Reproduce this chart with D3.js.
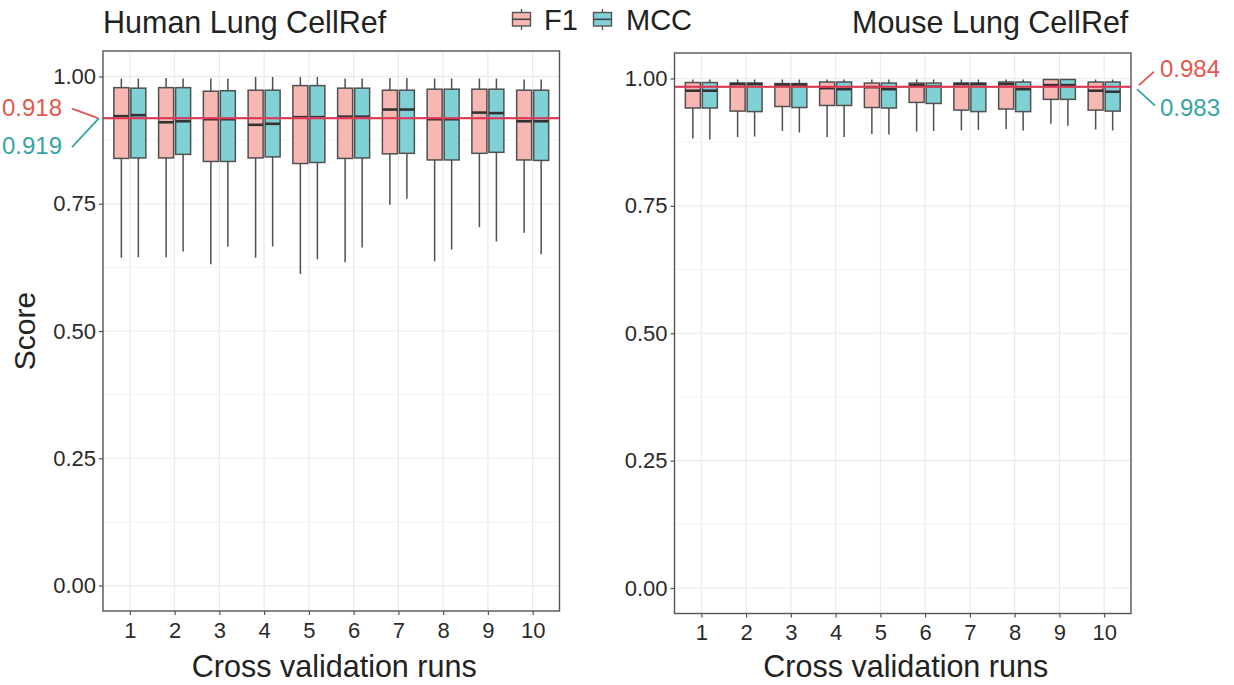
<!DOCTYPE html>
<html>
<head>
<meta charset="utf-8">
<script src="https://cdnjs.cloudflare.com/ajax/libs/d3/7.8.5/d3.min.js"></script>
<style>
  body { margin: 0; background: #fff; }
  svg { display: block; font-family: "Liberation Sans", Arial, sans-serif; }
</style>
</head>
<body>
<div id="chart"></div>
<script>
"use strict";

// cross validation runs (x categories)
var runs = [1, 2, 3, 4, 5, 6, 7, 8, 9, 10];
var yTicks = [0, 0.25, 0.5, 0.75, 1];
var yMinor = [0.125, 0.375, 0.625, 0.875];
var seriesNames = ["F1", "MCC"];

// each entry: [lower whisker, q1, median, q3, upper whisker]
var humanF1 = [
  [0.644, 0.839, 0.922, 0.978, 0.996],
  [0.645, 0.840, 0.910, 0.978, 0.997],
  [0.631, 0.833, 0.916, 0.971, 0.996],
  [0.644, 0.840, 0.905, 0.973, 0.999],
  [0.612, 0.829, 0.920, 0.982, 0.999],
  [0.635, 0.839, 0.921, 0.977, 0.996],
  [0.748, 0.848, 0.935, 0.973, 0.997],
  [0.637, 0.836, 0.916, 0.975, 0.996],
  [0.704, 0.849, 0.929, 0.975, 0.996],
  [0.693, 0.836, 0.912, 0.973, 0.994]
];
var humanMCC = [
  [0.645, 0.840, 0.924, 0.977, 0.996],
  [0.656, 0.847, 0.912, 0.978, 0.996],
  [0.666, 0.833, 0.916, 0.972, 0.996],
  [0.666, 0.842, 0.907, 0.973, 0.999],
  [0.641, 0.831, 0.920, 0.982, 0.999],
  [0.664, 0.840, 0.921, 0.977, 0.996],
  [0.760, 0.849, 0.935, 0.973, 0.997],
  [0.660, 0.836, 0.916, 0.975, 0.996],
  [0.676, 0.851, 0.928, 0.975, 0.996],
  [0.651, 0.835, 0.912, 0.973, 0.994]
];
var mouseF1 = [
  [0.882, 0.942, 0.976, 0.992, 0.998],
  [0.885, 0.936, 0.989, 0.991, 0.998],
  [0.897, 0.945, 0.988, 0.990, 0.998],
  [0.885, 0.947, 0.981, 0.993, 0.998],
  [0.891, 0.943, 0.983, 0.991, 0.998],
  [0.896, 0.953, 0.987, 0.991, 0.998],
  [0.898, 0.938, 0.989, 0.991, 0.998],
  [0.901, 0.940, 0.989, 0.993, 0.998],
  [0.911, 0.959, 0.987, 0.998, 0.999],
  [0.900, 0.938, 0.976, 0.993, 0.998]
];
var mouseMCC = [
  [0.880, 0.942, 0.976, 0.992, 0.998],
  [0.886, 0.935, 0.989, 0.991, 0.998],
  [0.894, 0.943, 0.988, 0.990, 0.998],
  [0.885, 0.947, 0.979, 0.993, 0.998],
  [0.890, 0.942, 0.979, 0.991, 0.998],
  [0.897, 0.951, 0.984, 0.991, 0.998],
  [0.899, 0.935, 0.989, 0.991, 0.998],
  [0.898, 0.935, 0.979, 0.993, 0.998],
  [0.907, 0.959, 0.987, 0.998, 0.999],
  [0.898, 0.936, 0.974, 0.993, 0.998]
];
// overall mean scores (F1, MCC)
var humanMeans = [0.918, 0.919];
var mouseMeans = [0.984, 0.983];

var fills = ["#F7B8B3", "#7FD1D5"];
var labelColors = ["#E3574C", "#36A4A4"];
var meanColors = ["#E3344B", "#8C8CD8"];
var FONT = '"Liberation Sans", Arial, sans-serif';

var W = 1234, H = 685;
var svg = d3.select("#chart").append("svg")
    .attr("width", W).attr("height", H);

function drawPanel(opt) {
  var x = d3.scalePoint()
      .domain(runs)
      .range([opt.left, opt.right])
      .padding(0.6);
  var y = d3.scaleLinear()
      .domain([-0.05, 1.05])
      .range([opt.bottom, opt.top]);
  var step = x.step();
  var g = svg.append("g");

  // grid
  g.selectAll(".minor").data(yMinor).enter().append("line")
      .attr("x1", opt.left).attr("x2", opt.right)
      .attr("y1", function(d){ return y(d); }).attr("y2", function(d){ return y(d); })
      .attr("stroke", "#F3F3F3").attr("stroke-width", 1);
  g.selectAll(".major").data(yTicks).enter().append("line")
      .attr("x1", opt.left).attr("x2", opt.right)
      .attr("y1", function(d){ return y(d); }).attr("y2", function(d){ return y(d); })
      .attr("stroke", "#EBEBEB").attr("stroke-width", 1.2);
  g.selectAll(".vgrid").data(runs).enter().append("line")
      .attr("x1", function(d){ return x(d); }).attr("x2", function(d){ return x(d); })
      .attr("y1", opt.top).attr("y2", opt.bottom)
      .attr("stroke", "#EBEBEB").attr("stroke-width", 1.2);

  // boxes, F1 left / MCC right
  var offsets = [-0.19 * step, 0.19 * step];
  var bw = 0.335 * step;
  opt.series.forEach(function(ser, si) {
    var grp = g.selectAll(".box" + si).data(ser).enter().append("g");
    var cx = function(d, i){ return x(runs[i]) + offsets[si]; };
    grp.append("line")
        .attr("x1", cx).attr("x2", cx)
        .attr("y1", function(d){ return y(d[0]); })
        .attr("y2", function(d){ return y(d[4]); })
        .attr("stroke", "#505050").attr("stroke-width", 1.5);
    grp.append("rect")
        .attr("x", function(d, i){ return cx(d, i) - bw / 2; })
        .attr("width", bw)
        .attr("y", function(d){ return y(d[3]); })
        .attr("height", function(d){ return y(d[1]) - y(d[3]); })
        .attr("fill", fills[si])
        .attr("stroke", "#505050").attr("stroke-width", 1.5);
    grp.append("line")
        .attr("x1", function(d, i){ return cx(d, i) - bw / 2; })
        .attr("x2", function(d, i){ return cx(d, i) + bw / 2; })
        .attr("y1", function(d){ return y(d[2]); })
        .attr("y2", function(d){ return y(d[2]); })
        .attr("stroke", "#333").attr("stroke-width", 2.6);
  });

  // mean lines, MCC under F1
  [1, 0].forEach(function(k) {
    g.append("line")
        .attr("x1", opt.left).attr("x2", opt.right)
        .attr("y1", y(opt.means[k])).attr("y2", y(opt.means[k]))
        .attr("stroke", meanColors[k])
        .attr("stroke-width", k === 0 ? 2 : 1);
  });

  // panel border
  g.append("rect")
      .attr("x", opt.left).attr("y", opt.top)
      .attr("width", opt.right - opt.left).attr("height", opt.bottom - opt.top)
      .attr("fill", "none").attr("stroke", "#555").attr("stroke-width", 1.4);

  // axes
  var yAxis = d3.axisLeft(y).tickValues(yTicks).tickFormat(d3.format(".2f")).tickSize(4).tickPadding(3);
  var ya = g.append("g").attr("transform", "translate(" + opt.left + ",0)").call(yAxis);
  var xAxis = d3.axisBottom(x).tickSize(4).tickPadding(7);
  var xa = g.append("g").attr("transform", "translate(0," + opt.bottom + ")").call(xAxis);
  [ya, xa].forEach(function(a) {
    a.attr("font-family", FONT);
    a.select(".domain").remove();
    a.selectAll(".tick line").attr("stroke", "#555").attr("stroke-width", 1.2);
    a.selectAll(".tick text").attr("fill", "#2a2a2a").style("font-size", "22px");
  });

  g.append("text")
      .attr("x", opt.titleX).attr("y", 33)
      .attr("fill", "#222").style("font-size", "30.5px")
      .text(opt.title);

  g.append("text")
      .attr("x", (opt.left + opt.right) / 2 + 3).attr("y", 677)
      .attr("text-anchor", "middle")
      .attr("fill", "#222").style("font-size", "30.5px")
      .text("Cross validation runs");

  // value labels for the mean lines
  var my = y(opt.means[0]);
  opt.labels.forEach(function(lb, k) {
    g.append("line")
        .attr("x1", lb.lx1).attr("y1", my + lb.dy1)
        .attr("x2", lb.lx2).attr("y2", my + lb.dy2)
        .attr("stroke", labelColors[k]).attr("stroke-width", 1.8);
    g.append("text")
        .attr("x", lb.tx).attr("y", my + lb.ty)
        .attr("text-anchor", lb.anchor)
        .attr("fill", labelColors[k]).style("font-size", "24px")
        .text(d3.format(".3f")(opt.means[k]));
  });
}

drawPanel({
  left: 103, right: 559.5, top: 51, bottom: 611,
  series: [humanF1, humanMCC], means: humanMeans,
  title: "Human Lung CellRef", titleX: 103,
  labels: [
    { lx1: 72, dy1: -9.5, lx2: 98, dy2: 0, tx: 62, ty: -2, anchor: "end" },
    { lx1: 72, dy1: 29, lx2: 99, dy2: 0, tx: 62, ty: 35.5, anchor: "end" }
  ]
});

drawPanel({
  left: 674.5, right: 1131, top: 53, bottom: 613.5,
  series: [mouseF1, mouseMCC], means: mouseMeans,
  title: "Mouse Lung CellRef", titleX: 852,
  labels: [
    { lx1: 1139, dy1: -1.5, lx2: 1154, dy2: -15, tx: 1160, ty: -9.5, anchor: "start" },
    { lx1: 1137, dy1: 2.5, lx2: 1155, dy2: 19, tx: 1160, ty: 29, anchor: "start" }
  ]
});

// y axis title
svg.append("text")
    .attr("transform", "translate(35,331) rotate(-90)")
    .attr("text-anchor", "middle")
    .attr("fill", "#222").style("font-size", "30px")
    .text("Score");

// legend
var legend = svg.append("g");
var keyX = [512, 593], textX = [544, 626];
seriesNames.forEach(function(name, i) {
  var k = legend.append("g").attr("transform", "translate(" + keyX[i] + ",0)");
  k.append("line").attr("x1", 9.5).attr("x2", 9.5).attr("y1", 9).attr("y2", 30)
      .attr("stroke", "#555").attr("stroke-width", 1.4);
  k.append("rect").attr("x", 0.5).attr("y", 12.5).attr("width", 18).attr("height", 13.5)
      .attr("fill", fills[i]).attr("stroke", "#555").attr("stroke-width", 1.4);
  k.append("line").attr("x1", 0.5).attr("x2", 18.5).attr("y1", 19.3).attr("y2", 19.3)
      .attr("stroke", "#444").attr("stroke-width", 1.6);
  legend.append("text")
      .attr("x", textX[i]).attr("y", 30)
      .attr("fill", "#222").style("font-size", "29px")
      .text(name);
});
</script>
</body>
</html>
